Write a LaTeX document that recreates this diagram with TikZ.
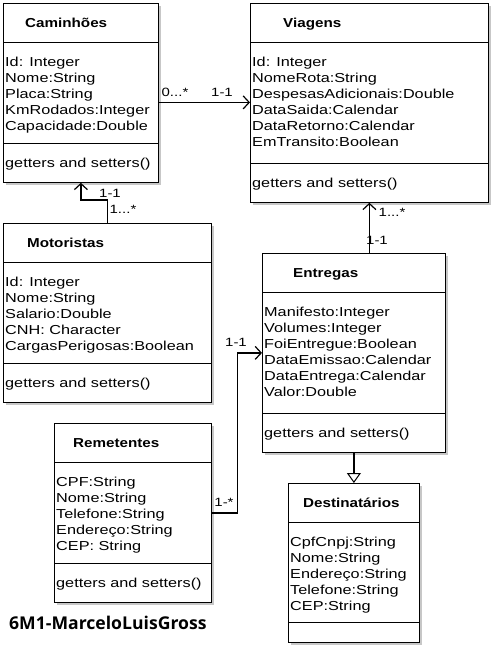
\documentclass[tikz,border=0pt]{standalone}
\usepackage{fontspec}
\setmainfont{Liberation Sans}[FakeStretch=1.25,BoldFeatures={FakeStretch=1.17}]
\newfontfamily\signfont{Open Sans}
\usepackage{tikz}
\usetikzlibrary{arrows.meta,shadows}

\tikzset{
  classbox/.style={draw,line width=0.8pt,fill=white,inner sep=0,anchor=north west,
    drop shadow={shadow xshift=3pt,shadow yshift=-3pt,fill=black!22,opacity=1}},
  divline/.style={line width=0.8pt},
  classname/.style={anchor=base west,inner sep=0,font=\fontsize{13}{16}\selectfont\bfseries},
  attr/.style={anchor=base west,inner sep=0,font=\fontsize{13}{16}\selectfont},
  mult/.style={inner sep=0,font=\fontsize{12}{12}\selectfont},
  assoc/.style={line width=1.2pt,-{Straight Barb[length=6pt,width=13pt]}},
  gen/.style={line width=1.2pt,-{Triangle[open,fill=white,length=10pt,width=14pt,line width=1pt]}},
}

\begin{document}
\begin{tikzpicture}[x=1pt,y=-1pt]
	\useasboundingbox (0,0) rectangle (492,649);

	% Caminhoes
	\node[classbox,minimum width=155pt,minimum height=179pt] (cam) at (3,3) {};
	\draw[divline] ([yshift=-39pt]cam.north west) -- ([yshift=-39pt]cam.north east);
	\draw[divline] ([yshift=-140pt]cam.north west) -- ([yshift=-140pt]cam.north east);
	\node[classname] (cam-name) at ([shift={(22,24)}]cam.north west) {Caminhões};
	\foreach \t [count=\i] in {Id: Integer,Nome:String,Placa:String,KmRodados:Integer,Capacidade:Double}
		\node[attr] (cam-a\i) at ([shift={(2,47+16*\i)}]cam.north west) {\t};
	\node[attr] (cam-op) at ([shift={(2,164)}]cam.north west) {getters and setters()};

	% Viagens
	\node[classbox,minimum width=238pt,minimum height=199pt] (via) at (250,3) {};
	\draw[divline] ([yshift=-39pt]via.north west) -- ([yshift=-39pt]via.north east);
	\draw[divline] ([yshift=-160pt]via.north west) -- ([yshift=-160pt]via.north east);
	\node[classname] (via-name) at ([shift={(33,24)}]via.north west) {Viagens};
	\foreach \t [count=\i] in {Id: Integer,NomeRota:String,DespesasAdicionais:Double,DataSaida:Calendar,DataRetorno:Calendar,EmTransito:Boolean}
		\node[attr] (via-a\i) at ([shift={(2,47+16*\i)}]via.north west) {\t};
	\node[attr] (via-op) at ([shift={(2,184)}]via.north west) {getters and setters()};

	% Motoristas
	\node[classbox,minimum width=208pt,minimum height=179pt] (mot) at (3,223) {};
	\draw[divline] ([yshift=-39pt]mot.north west) -- ([yshift=-39pt]mot.north east);
	\draw[divline] ([yshift=-140pt]mot.north west) -- ([yshift=-140pt]mot.north east);
	\node[classname] (mot-name) at ([shift={(24,24)}]mot.north west) {Motoristas};
	\foreach \t [count=\i] in {Id: Integer,Nome:String,Salario:Double,CNH: Character,CargasPerigosas:Boolean}
		\node[attr] (mot-a\i) at ([shift={(2,47+16*\i)}]mot.north west) {\t};
	\node[attr] (mot-op) at ([shift={(2,164)}]mot.north west) {getters and setters()};

	% Entregas
	\node[classbox,minimum width=183pt,minimum height=199pt] (ent) at (262,253) {};
	\draw[divline] ([yshift=-39pt]ent.north west) -- ([yshift=-39pt]ent.north east);
	\draw[divline] ([yshift=-160pt]ent.north west) -- ([yshift=-160pt]ent.north east);
	\node[classname] (ent-name) at ([shift={(31,24)}]ent.north west) {Entregas};
	\foreach \t [count=\i] in {Manifesto:Integer,Volumes:Integer,FoiEntregue:Boolean,DataEmissao:Calendar,DataEntrega:Calendar,Valor:Double}
		\node[attr] (ent-a\i) at ([shift={(2,47+16*\i)}]ent.north west) {\t};
	\node[attr] (ent-op) at ([shift={(2,184)}]ent.north west) {getters and setters()};

	% Remetentes
	\node[classbox,minimum width=157pt,minimum height=179pt] (rem) at (54,423) {};
	\draw[divline] ([yshift=-39pt]rem.north west) -- ([yshift=-39pt]rem.north east);
	\draw[divline] ([yshift=-140pt]rem.north west) -- ([yshift=-140pt]rem.north east);
	\node[classname] (rem-name) at ([shift={(19,24)}]rem.north west) {Remetentes};
	\foreach \t [count=\i] in {CPF:String,Nome:String,Telefone:String,Endereço:String,CEP: String}
		\node[attr] (rem-a\i) at ([shift={(2,47+16*\i)}]rem.north west) {\t};
	\node[attr] (rem-op) at ([shift={(2,164)}]rem.north west) {getters and setters()};

	% Destinatarios
	\node[classbox,minimum width=131pt,minimum height=159pt] (des) at (288,483) {};
	\draw[divline] ([yshift=-39pt]des.north west) -- ([yshift=-39pt]des.north east);
	\draw[divline] ([yshift=-139pt]des.north west) -- ([yshift=-139pt]des.north east);
	\node[classname] (des-name) at ([shift={(15,24)}]des.north west) {Destinatários};
	\foreach \t [count=\i] in {CpfCnpj:String,Nome:String,Endereço:String,Telefone:String,CEP:String}
		\node[attr] (des-a\i) at ([shift={(2,47+16*\i)}]des.north west) {\t};

	% associations
	\coordinate (cam-out) at ([yshift=-9.5pt]cam.east);
	\draw[assoc] (cam-out) -- (cam-out -| via.west);
	\node[mult] (m1) at (175,92) {0...*};
	\node[mult] (m2) at (222,92) {1-1};

	\draw[assoc] (mot.north) -- ++(0,-23) -| (cam.south);
	\node[mult] (m3) at (110,193) {1-1};
	\node[mult] (m4) at (123,209) {1...*};

	\draw[assoc] (ent.north -| via.south) -- (via.south);
	\node[mult] (m5) at (392,212) {1...*};
	\node[mult] (m6) at (377,240) {1-1};

	\draw[assoc] (rem.east) -- ++(26,0) |- (ent.west);
	\node[mult] (m7) at (236,342) {1-1};
	\node[mult] (m8) at (224,502) {1-*};

	\draw[gen] (ent.south) -- (des.north);

	\node[anchor=west,inner sep=0,font=\signfont\bfseries\fontsize{17.6}{18}\selectfont] (sign) at (9,623) {6M1-MarceloLuisGross};
\end{tikzpicture}
\end{document}
